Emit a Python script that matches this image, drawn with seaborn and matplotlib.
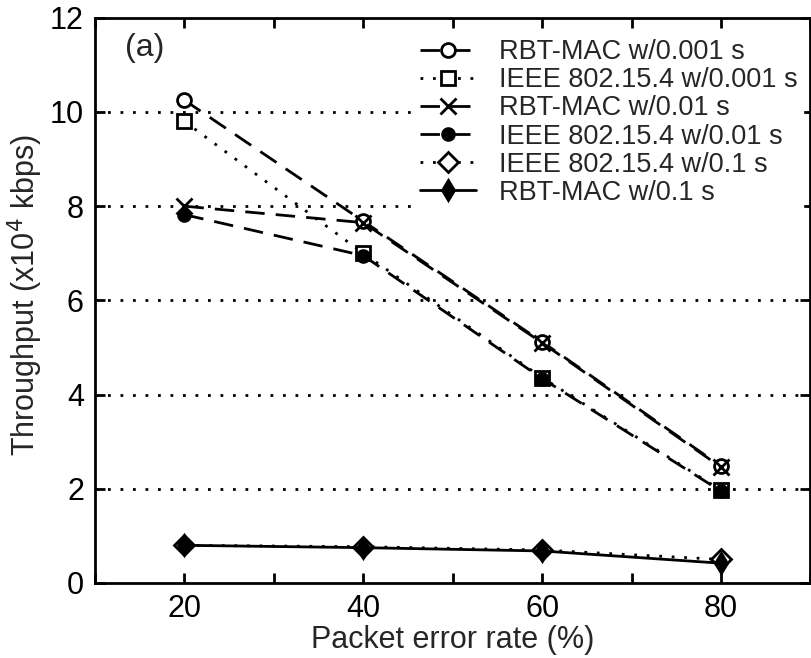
import matplotlib
matplotlib.use("Agg")
import matplotlib.pyplot as plt
from matplotlib.ticker import MultipleLocator
import seaborn as sns
import pandas as pd

sns.set_theme(style="ticks")
plt.rcParams['font.family'] = ['Liberation Sans', 'DejaVu Sans']

per = [20, 40, 60, 80]
series_names = ["RBT-MAC w/0.001 s", "IEEE 802.15.4 w/0.001 s", "RBT-MAC w/0.01 s",
                "IEEE 802.15.4 w/0.01 s", "IEEE 802.15.4 w/0.1 s", "RBT-MAC w/0.1 s"]
rbt_0001 = [10.25, 7.68, 5.12, 2.48]
ieee_0001 = [9.8, 7.0, 4.36, 1.97]
rbt_001 = [8.0, 7.65, 5.1, 2.46]
ieee_001 = [7.82, 6.95, 4.34, 1.95]
ieee_01 = [0.8, 0.77, 0.7, 0.5]
rbt_01 = [0.8, 0.75, 0.68, 0.42]
values = [rbt_0001, ieee_0001, rbt_001, ieee_001, ieee_01, rbt_01]

rows = []
for name, vals in zip(series_names, values):
    for x, v in zip(per, vals):
        rows.append({"per": x, "thr": v, "series": name})
df = pd.DataFrame(rows)

DOT = (0, (1, 3.5))
DASH = (0, (7, 4))
styles = {
    "RBT-MAC w/0.001 s": dict(ls=DASH, marker="o", mfc="white", ms=10),
    "IEEE 802.15.4 w/0.001 s": dict(ls=DOT, marker="s", mfc="white", ms=10),
    "RBT-MAC w/0.01 s": dict(ls=DASH, marker="x", mfc="black", ms=11),
    "IEEE 802.15.4 w/0.01 s": dict(ls=DASH, marker="o", mfc="black", ms=8.5),
    "IEEE 802.15.4 w/0.1 s": dict(ls=DOT, marker="D", mfc="white", ms=10),
    "RBT-MAC w/0.1 s": dict(ls="-", marker="d", mfc="black", ms=10),
}

fig = plt.figure(figsize=(8.12, 6.58), dpi=100)
ax = fig.add_axes([0.117, 0.114, 0.881, 0.859])

for name in series_names:
    st = styles[name]
    sub = df[df["series"] == name]
    sns.lineplot(data=sub, x="per", y="thr", ax=ax, color="black", lw=2,
                 linestyle=st["ls"], marker=st["marker"], markersize=st["ms"],
                 markerfacecolor=st["mfc"], markeredgecolor="black",
                 markeredgewidth=2, label=name, errorbar=None)

ax.set_xlim(10, 90)
ax.set_ylim(0, 12)
ax.xaxis.set_minor_locator(MultipleLocator(10))
ax.yaxis.set_major_locator(MultipleLocator(2))
ax.set_xticks([20, 40, 60, 80])
ax.tick_params(which="both", direction="in", top=True, right=True, width=2,
               length=7, labelsize=22, colors="black")
ax.tick_params(axis="y", pad=8)
ax.tick_params(axis="x", pad=8)
for sp in ax.spines.values():
    sp.set_linewidth(2)
    sp.set_color("black")

for yv in [2, 4, 6, 8, 10]:
    ax.axhline(yv, color="black", lw=2, ls=DOT, zorder=0)

ax.set_xlabel("Packet error rate (%)", fontsize=22, labelpad=1)
ax.set_ylabel("Throughput (x10$^4$ kbps)", fontsize=22, labelpad=1)
ax.yaxis.set_label_coords(-0.070, 0.51)
ax.text(13.3, 11.35, "(a)", fontsize=23, ha="left", va="center")

leg = ax.legend(loc="upper left", bbox_to_anchor=(0.447, 0.972), fontsize=19.5,
                frameon=True, facecolor="white", edgecolor="white", framealpha=1,
                handlelength=2.05, handletextpad=0.85, labelspacing=0.08,
                borderpad=0.2, borderaxespad=0, fancybox=False)
leg.set_zorder(5)

fig.savefig("out.png", dpi=100)
